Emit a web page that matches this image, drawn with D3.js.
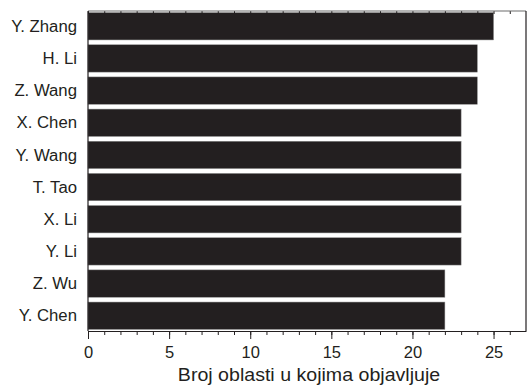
<!DOCTYPE html>
<html>
<head>
<meta charset="utf-8">
<script src="https://cdn.jsdelivr.net/npm/d3@7"></script>
<style>
  body { margin: 0; background: #fff; }
  svg text { font-family: "Liberation Sans", Arial, sans-serif; fill: #231f20; }
</style>
</head>
<body>
<div id="chart"></div>
<script>
// data
var names = ["Y. Zhang", "H. Li", "Z. Wang", "X. Chen", "Y. Wang", "T. Tao", "X. Li", "Y. Li", "Z. Wu", "Y. Chen"];
var counts = [25, 24, 24, 23, 23, 23, 23, 23, 22, 22];
var majorTicks = [0, 5, 10, 15, 20, 25];
var xTitle = "Broj oblasti u kojima objavljuje";

var width = 527, height = 386;
var mLeft = 88, mRight = 526, mTop = 11, mBottom = 331;
var ink = "#231f20";

var svg = d3.select("#chart")
  .append("svg")
    .attr("width", width)
    .attr("height", height);

var x = d3.scaleLinear().domain([0, 27]).range([mLeft, mRight]);
var y = d3.scaleBand().domain(names).range([mTop, mBottom])
  .paddingInner(0.15).paddingOuter(0.05);

// bars
svg.append("g")
  .selectAll("rect")
  .data(names)
  .join("rect")
    .attr("x", x(0))
    .attr("y", d => y(d))
    .attr("width", (d, i) => x(counts[i]) - x(0))
    .attr("height", y.bandwidth())
    .attr("fill", ink)
    .attr("stroke", "#8c8c8c")
    .attr("stroke-width", 0.5);

// bottom axis: majors labelled, minors every unit
var minor = d3.range(0, 27);
var gb = svg.append("g").attr("transform", "translate(0," + mBottom + ")");
gb.append("g")
  .call(d3.axisBottom(x).tickValues(minor).tickSize(4).tickFormat(""))
  .call(g => g.select(".domain").remove())
  .selectAll("line").attr("stroke", ink);
gb.append("g")
  .call(d3.axisBottom(x).tickValues(majorTicks).tickSize(8).tickPadding(7).tickSizeOuter(0))
  .call(g => g.select(".domain").attr("stroke", ink).attr("stroke-width", 1.2))
  .call(g => g.selectAll("line").attr("stroke", ink))
  .selectAll("text")
    .attr("font-size", 16.5)
    .attr("font-family", "Liberation Sans, Arial, sans-serif")
    .attr("fill", ink);

// top axis: small inward ticks
svg.append("g")
  .attr("transform", "translate(0," + mTop + ")")
  .call(d3.axisBottom(x).tickValues(minor).tickSize(3).tickFormat(""))
  .call(g => g.select(".domain").remove())
  .selectAll("line").attr("stroke", ink);

// frame
svg.append("line").attr("x1", mLeft).attr("x2", mRight).attr("y1", mTop).attr("y2", mTop)
  .attr("stroke", "#6d6d6d").attr("stroke-width", 1.2);
svg.append("line").attr("x1", mLeft).attr("x2", mLeft).attr("y1", mTop).attr("y2", mBottom)
  .attr("stroke", ink).attr("stroke-width", 1.2);
svg.append("line").attr("x1", mRight).attr("x2", mRight).attr("y1", mTop).attr("y2", mBottom)
  .attr("stroke", ink).attr("stroke-width", 1.2);

// y labels
svg.append("g")
  .selectAll("text")
  .data(names)
  .join("text")
    .attr("transform", d => "translate(77," + (y(d) + y.bandwidth() / 2) + ") scale(1.06,1)")
    .attr("dy", "0.36em")
    .attr("text-anchor", "end")
    .attr("font-size", 15.8)
    .text(d => d);

// x title
svg.append("text")
  .attr("transform", "translate(" + ((mLeft + mRight) / 2 + 2) + ",381) scale(1.12,1)")
  .attr("text-anchor", "middle")
  .attr("font-size", 17.5)
  .text(xTitle);
</script>
</body>
</html>
